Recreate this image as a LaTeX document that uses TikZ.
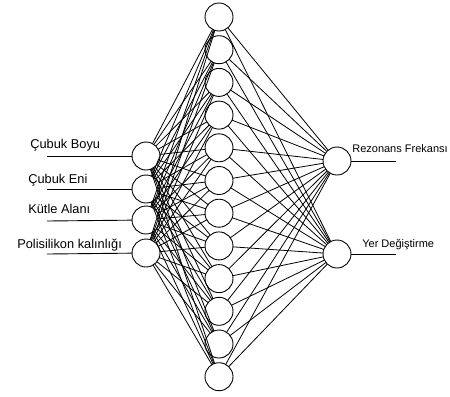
\documentclass[tikz,border=0pt]{standalone}
\usepackage{fontspec}
\setmainfont{Liberation Sans}
\definecolor{ink}{HTML}{000000}
\tikzset{
  neuron/.style={circle,draw=ink,fill=white,line width=0.9bp,minimum size=28bp,inner sep=0pt},
  inlabel/.style={anchor=base west,font=\fontsize{12.8bp}{15bp}\selectfont,text=ink},
  outlabel/.style={anchor=base west,font=\fontsize{11bp}{13bp}\selectfont,text=ink},
  wire/.style={draw=ink,line width=0.8bp},
  lead/.style={draw=ink,line width=0.9bp}
}
\begin{document}
\begin{tikzpicture}[x=1bp,y=-1bp,every node/.style={outer sep=0pt}]
\path[use as bounding box] (0,0) rectangle (450,396);

% input layer
\node[neuron] (in-1) at (146,156) {};
\node[neuron] (in-2) at (146,189) {};
\node[neuron] (in-3) at (146,220) {};
\node[neuron] (in-4) at (146,253) {};
\coordinate (lead-1) at (47,156);
\coordinate (lead-2) at (47,189);
\coordinate (lead-3) at (47,221);
\coordinate (lead-4) at (47,254);
\node[inlabel] (name-1) at (27,148) {Çubuk Boyu};
\node[inlabel] (name-2) at (25,183) {Çubuk Eni};
\node[inlabel] (name-3) at (25,213) {Kütle Alanı};
\node[inlabel] (name-4) at (14,248) {Polisilikon kalınlığı};

% hidden layer
\foreach \k in {1,...,12}
  \node[neuron] (hid-\k) at (219,{17+32.7*(\k-1)}) {};

% output layer
\node[neuron] (out-1) at (337,161) {};
\node[neuron] (out-2) at (337,254) {};
\coordinate (tail-1) at (396,161);
\coordinate (tail-2) at (396,254);
\node[outlabel] (res-1) at (349,152) {Rezonans Frekansı};
\node[outlabel] (res-2) at (359,247) {Yer Değiştirme};

% connections
\foreach \i in {1,...,4}
  \foreach \k in {1,...,12}
    \draw[wire] (in-\i) -- (hid-\k);
\foreach \k in {1,...,12}
  \foreach \j in {1,2}
    \draw[wire] (hid-\k) -- (out-\j);
\foreach \i in {1,...,4}
  \draw[lead] (lead-\i) -- (in-\i);
\draw[lead] (out-1) -- (tail-1);
\draw[lead] (out-2) -- (tail-2);
\end{tikzpicture}
\end{document}
